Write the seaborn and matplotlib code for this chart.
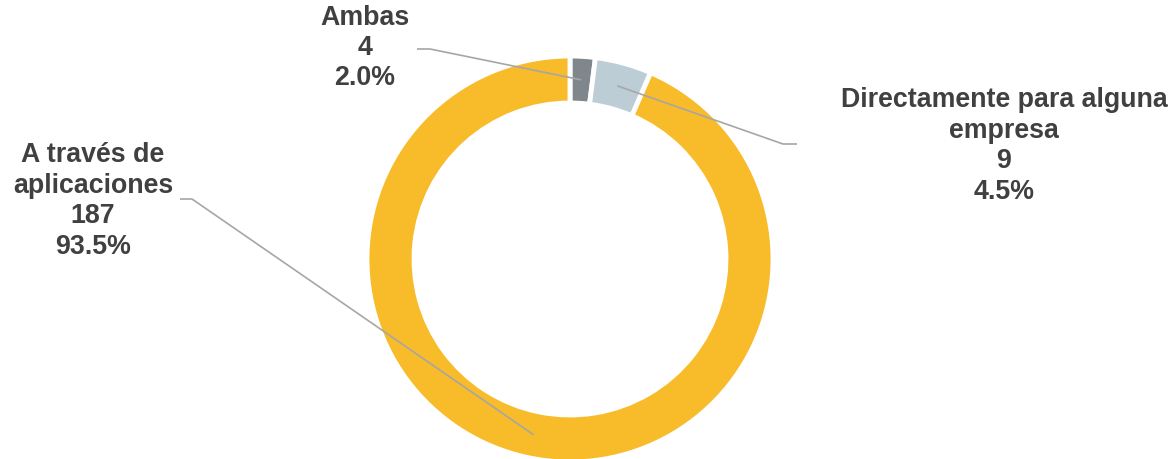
import numpy as np
import matplotlib
matplotlib.use("Agg")
import matplotlib.pyplot as plt
import seaborn as sns

# data
labels = ["Ambas", "Directamente para alguna\nempresa", "A través de\naplicaciones"]
counts = [4, 9, 187]
pcts = [2.0, 4.5, 93.5]
colors = ["#7F878C", "#BCCDD6", "#F8BB2A"]

sns.set_style("white")
plt.rcParams["font.family"] = ["Liberation Sans", "DejaVu Sans"]

W, H = 1172, 459
fig = plt.figure(figsize=(W / 100, H / 100), dpi=100)
ax = fig.add_axes([0, 0, 1, 1])

# donut geometry in pixel units
cx, cy = 570, H - 259
r_out, r_in = 203, 156

wedges, _ = ax.pie(counts, colors=colors, startangle=90, counterclock=False,
                   radius=r_out, center=(cx, cy),
                   wedgeprops=dict(width=r_out - r_in, edgecolor="white", linewidth=3.5))
ax.set_xlim(0, W)
ax.set_ylim(0, H)
ax.set_aspect("equal")
ax.axis("off")

# label text centres and leader-line start (x, y) in pixels from top
text_pos = [(365, 48), (1004, 146), (93, 201)]
line_start = [((417, 49), (430, 49)), ((797, 144), (783, 144)), ((180, 199), (192, 199))]

r_mid = (r_out + r_in) / 2
for w, lab, n, p, (tx, ty), (p0, p1) in zip(wedges, labels, counts, pcts, text_pos, line_start):
    ang = np.deg2rad((w.theta1 + w.theta2) / 2)
    ex = cx + r_mid * np.cos(ang)
    ey = cy + r_mid * np.sin(ang)
    ax.plot([p0[0], p1[0], ex], [H - p0[1], H - p1[1], ey], color="#A6A6A6", lw=1.2,
            solid_capstyle="butt", zorder=3)
    ax.text(tx, H - ty, f"{lab}\n{n}\n{p:.1f}%", ha="center", va="center",
            fontsize=19.3, fontweight="bold", color="#404040", linespacing=1.22)

fig.savefig("out.png", dpi=100)
